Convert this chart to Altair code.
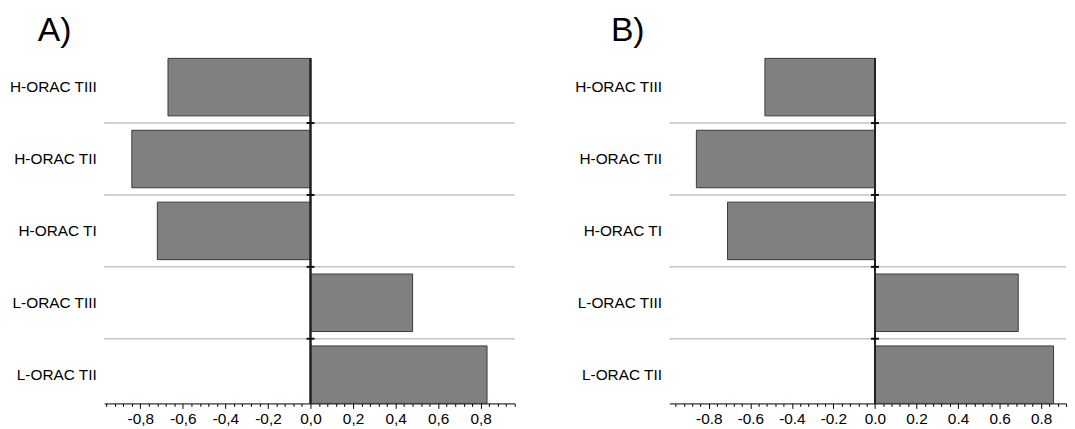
import altair as alt
import pandas as pd

categories = ["H-ORAC TIII", "H-ORAC TII", "H-ORAC TI", "L-ORAC TIII", "L-ORAC TII"]
values_a = [-0.67, -0.84, -0.72, 0.48, 0.83]
values_b = [-0.53, -0.86, -0.71, 0.69, 0.86]
tick_values = [round(-0.96 + 0.04 * i, 2) for i in range(49)]
separators = categories[1:]

FONT = "Liberation Sans"
H = 348


def panel(vals, title, title_dx, domain, width, decimal):
    df = pd.DataFrame({"cat": categories, "val": vals})
    sep = pd.DataFrame({"cat": separators})
    step = H / (len(categories) - 0.2)
    half_gap = 0.2 * step / 2
    major = "abs(datum.value*5 - round(datum.value*5)) < 0.01"
    fmt = "replace(format(round(datum.value*5)/5, '.1f'), '\u2212', '-')"
    if decimal == ",":
        fmt = f"replace({fmt}, '.', ',')"
    ticks = [v for v in tick_values if domain[0] - 1e-9 <= v <= domain[1] + 1e-9]
    xscale = alt.Scale(domain=domain, nice=False, zero=False)
    yscale = alt.Scale(domain=categories, paddingInner=0.2, paddingOuter=0)
    xaxis = alt.Axis(
        values=ticks, title=None, grid=False,
        labelExpr=f"{major} ? {fmt} : ''",
        tickSize={"condition": {"test": major, "value": 5}, "value": 3},
        tickColor="black", domainColor="black", domainWidth=1, tickWidth=1,
        labelFont=FONT, labelFontSize=15.5, labelColor="black", labelPadding=3,
        labelFlush=False, labelOverlap=False,
    )
    yaxis = alt.Axis(
        title=None, domain=False, ticks=False, grid=False,
        labelFont=FONT, labelFontSize=15.5, labelColor="black",
        labelPadding=8, minExtent=97, maxExtent=97,
    )
    seps = alt.Chart(sep).mark_rule(color="#c4c4c4", strokeWidth=1.5, yOffset=-half_gap).encode(
        y=alt.Y("cat:N", scale=yscale, axis=yaxis, bandPosition=0),
        x=alt.value(0), x2=alt.value(width),
    )
    bars = alt.Chart(df).mark_bar(color="#808080", stroke="#3a3a3a", strokeWidth=1).encode(
        y=alt.Y("cat:N", scale=yscale, axis=yaxis, sort=categories),
        x=alt.X("val:Q", scale=xscale, axis=xaxis),
        x2=alt.datum(0),
    )
    zero = alt.Chart(df).mark_rule(color="#222222", strokeWidth=1.5).encode(
        x=alt.datum(0, scale=xscale, axis=xaxis), y=alt.value(0), y2=alt.value(H),
    )
    marks = alt.Chart(sep).mark_point(
        shape="M-1,0L1,0", size=64, filled=False, stroke="#111111", strokeWidth=2,
        yOffset=-half_gap, opacity=1,
    ).encode(
        y=alt.Y("cat:N", scale=yscale, axis=yaxis, bandPosition=0),
        x=alt.datum(0, scale=xscale, axis=xaxis),
    )
    return alt.layer(seps, bars, zero, marks).properties(
        width=width, height=H,
        title=alt.TitleParams(title, font=FONT, fontSize=34, fontWeight="normal",
                              color="black", anchor="start", frame="bounds",
                              dx=title_dx, offset=10),
    )


chart = alt.hconcat(
    panel(values_a, "A)", 30, [-0.97, 0.96], 414, ","),
    panel(values_b, "B)", 38, [-0.99, 0.92], 400, "."),
    spacing=58,
).properties(
    padding={"left": 0, "top": 4, "right": 0, "bottom": 0},
).configure_view(stroke=None)

chart.save("out.html", embed_options={"renderer": "svg", "actions": False})
